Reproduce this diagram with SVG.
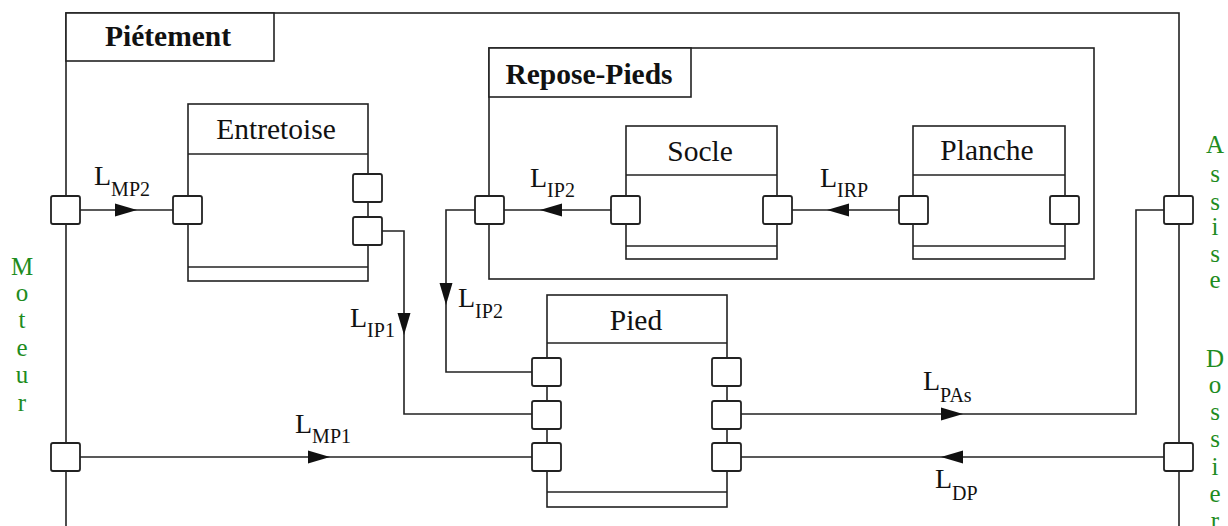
<svg xmlns="http://www.w3.org/2000/svg" xmlns:xlink="http://www.w3.org/1999/xlink" width="1228" height="526" viewBox="0 0 1228 526">
<style>
.frame{fill:none;stroke:#222;stroke-width:1.6}
.box{fill:#fff;stroke:#222;stroke-width:1.6}
.port{fill:#fff;stroke:#222;stroke-width:1.8}
.wire{fill:none;stroke:#222;stroke-width:1.6}
.title{font-family:"Liberation Serif",serif;font-weight:bold;font-size:29.5px;fill:#111;text-anchor:middle}
.name{font-family:"Liberation Serif",serif;font-size:29.5px;fill:#111;text-anchor:middle}
.lab{font-family:"Liberation Serif",serif;font-size:28px;fill:#111}
.sub{font-size:20px}
.ext{font-family:"Liberation Serif",serif;font-size:25px;fill:#1e8c1e;text-anchor:middle}
</style>
<defs>
<path id="ah" d="M0,0 L-22,-6.5 L-22,6.5 Z" fill="#111"/>
</defs>
<rect width="1228" height="526" fill="#fff"/>

<g id="pietement">
<rect class="frame" x="66" y="13" width="1113" height="530"/>
<rect class="box" x="66" y="13" width="208" height="48"/>
<text class="title" x="168" y="46">Piétement</text>
<rect class="port" x="51" y="196" width="29" height="28" rx="2"/>
<rect class="port" x="51" y="443" width="29" height="28" rx="2"/>
<rect class="port" x="1164" y="196" width="29" height="28" rx="2"/>
<rect class="port" x="1164" y="443" width="29" height="28" rx="2"/>
</g>

<g id="entretoise">
<rect class="box" x="188" y="104" width="180" height="177"/>
<line class="frame" x1="188" y1="154" x2="368" y2="154"/>
<line class="frame" x1="188" y1="267" x2="368" y2="267"/>
<text class="name" x="276" y="139">Entretoise</text>
<rect class="port" x="173" y="196" width="29" height="28" rx="2"/>
<rect class="port" x="353" y="174" width="29" height="28" rx="2"/>
<rect class="port" x="353" y="217" width="29" height="28" rx="2"/>
</g>

<g id="repose-pieds">
<rect class="frame" x="489" y="48" width="605" height="231"/>
<rect class="box" x="489" y="48" width="202" height="49"/>
<text class="title" x="589" y="84">Repose-Pieds</text>
<rect class="port" x="475" y="196" width="29" height="28" rx="2"/>
</g>

<g id="socle">
<rect class="box" x="626" y="126" width="151" height="133"/>
<line class="frame" x1="626" y1="175" x2="777" y2="175"/>
<line class="frame" x1="626" y1="246" x2="777" y2="246"/>
<text class="name" x="700" y="161">Socle</text>
<rect class="port" x="611" y="196" width="29" height="28" rx="2"/>
<rect class="port" x="763" y="196" width="29" height="28" rx="2"/>
</g>

<g id="planche">
<rect class="box" x="913" y="126" width="152" height="133"/>
<line class="frame" x1="913" y1="175" x2="1065" y2="175"/>
<line class="frame" x1="913" y1="246" x2="1065" y2="246"/>
<text class="name" x="987" y="160">Planche</text>
<rect class="port" x="899" y="196" width="29" height="28" rx="2"/>
<rect class="port" x="1050" y="196" width="29" height="28" rx="2"/>
</g>

<g id="pied">
<rect class="box" x="547" y="295" width="180" height="212"/>
<line class="frame" x1="547" y1="343" x2="727" y2="343"/>
<line class="frame" x1="547" y1="492" x2="727" y2="492"/>
<text class="name" x="636" y="330">Pied</text>
<rect class="port" x="532" y="358" width="29" height="28" rx="2"/>
<rect class="port" x="532" y="401" width="29" height="28" rx="2"/>
<rect class="port" x="532" y="443" width="29" height="28" rx="2"/>
<rect class="port" x="712" y="358" width="29" height="28" rx="2"/>
<rect class="port" x="712" y="401" width="29" height="28" rx="2"/>
<rect class="port" x="712" y="443" width="29" height="28" rx="2"/>
</g>

<g id="connectors">
<line class="wire" x1="80" y1="210" x2="173" y2="210"/>
<use xlink:href="#ah" transform="translate(137,210)"/>
<line class="wire" x1="504" y1="210" x2="611" y2="210"/>
<use xlink:href="#ah" transform="translate(540,210) rotate(180)"/>
<line class="wire" x1="792" y1="210" x2="899" y2="210"/>
<use xlink:href="#ah" transform="translate(827,210) rotate(180)"/>
<polyline class="wire" points="382,231 404,231 404,414 532,414"/>
<use xlink:href="#ah" transform="translate(404,335) rotate(90)"/>
<polyline class="wire" points="475,210 446,210 446,372 532,372"/>
<use xlink:href="#ah" transform="translate(446,305) rotate(90)"/>
<line class="wire" x1="80" y1="457" x2="532" y2="457"/>
<use xlink:href="#ah" transform="translate(330,457)"/>
<polyline class="wire" points="741,414 1136,414 1136,210 1164,210"/>
<use xlink:href="#ah" transform="translate(963,414)"/>
<line class="wire" x1="741" y1="457" x2="1164" y2="457"/>
<use xlink:href="#ah" transform="translate(941,457) rotate(180)"/>
<text class="lab" x="94" y="185">L<tspan class="sub" dy="11">MP2</tspan></text>
<text class="lab" x="530" y="187">L<tspan class="sub" dy="10">IP2</tspan></text>
<text class="lab" x="820" y="187">L<tspan class="sub" dy="10">IRP</tspan></text>
<text class="lab" x="350" y="327">L<tspan class="sub" dy="10">IP1</tspan></text>
<text class="lab" x="458" y="307">L<tspan class="sub" dy="11">IP2</tspan></text>
<text class="lab" x="295" y="433">L<tspan class="sub" dy="10">MP1</tspan></text>
<text class="lab" x="923" y="390">L<tspan class="sub" dy="12">PAs</tspan></text>
<text class="lab" x="935" y="488">L<tspan class="sub" dy="12">DP</tspan></text>
</g>

<g id="moteur">
<text class="ext" x="22" y="275">M</text>
<text class="ext" x="22" y="301">o</text>
<text class="ext" x="22" y="328">t</text>
<text class="ext" x="22" y="356">e</text>
<text class="ext" x="22" y="383">u</text>
<text class="ext" x="22" y="411">r</text>
</g>
<g id="assise">
<text class="ext" x="1215" y="153">A</text>
<text class="ext" x="1215" y="182">s</text>
<text class="ext" x="1215" y="210">s</text>
<text class="ext" x="1215" y="235">i</text>
<text class="ext" x="1215" y="262">s</text>
<text class="ext" x="1215" y="288">e</text>
</g>
<g id="dossier">
<text class="ext" x="1215" y="367">D</text>
<text class="ext" x="1215" y="393">o</text>
<text class="ext" x="1215" y="420">s</text>
<text class="ext" x="1215" y="447">s</text>
<text class="ext" x="1215" y="475">i</text>
<text class="ext" x="1215" y="502">e</text>
<text class="ext" x="1215" y="529">r</text>
</g>
</svg>
